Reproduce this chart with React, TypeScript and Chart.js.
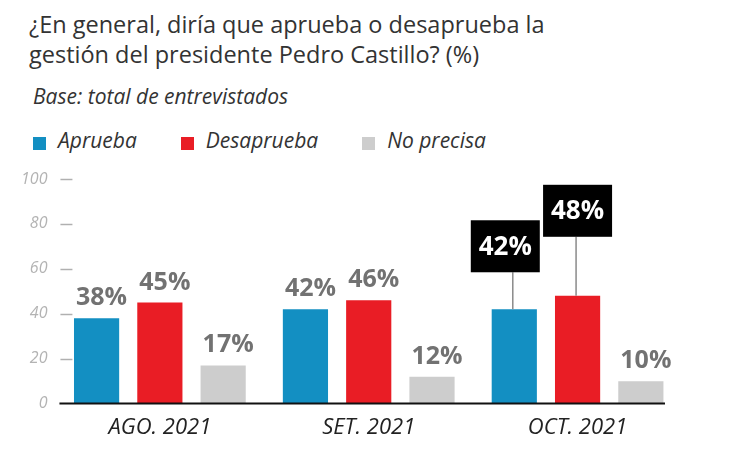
import { useRef, useEffect } from "react";
import { Chart, registerables } from "chart.js";
import type { Plugin } from "chart.js";

Chart.register(...registerables);

const categories = ["AGO. 2021", "SET. 2021", "OCT. 2021"];
const seriesNames = ["Aprueba", "Desaprueba", "No precisa"];
const aprueba = [38, 42, 42];
const desaprueba = [45, 46, 48];
const noPrecisa = [17, 12, 10];
const yTicks = [0, 20, 40, 60, 80, 100];

const COLORS = ["#138fc2", "#e91d25", "#cdcdcd"];
const FONT = "'Open Sans', 'Noto Sans', sans-serif";

// black boxes over the latest poll (series index, category index, lift above bar)
const callouts = [
    { series: 0, index: 2, lift: 37, dx: -9 },
    { series: 1, index: 2, lift: 59, dx: 0 }
];

const decorPlugin: Plugin<"bar"> = {
    id: "decor",
    afterDatasetsDraw(chart) {
        const { ctx, chartArea, scales } = chart;
        const y = scales.y;
        ctx.save();

        // short tick dashes inside the plot
        ctx.strokeStyle = "#b0b0b0";
        ctx.lineWidth = 1.5;
        for (const t of yTicks) {
            if (t === 0) continue;
            const py = Math.round(y.getPixelForValue(t)) + 0.5;
            ctx.beginPath();
            ctx.moveTo(chartArea.left + 5, py);
            ctx.lineTo(chartArea.left + 17, py);
            ctx.stroke();
        }

        // value labels
        chart.data.datasets.forEach((ds, si) => {
            const meta = chart.getDatasetMeta(si);
            meta.data.forEach((bar: any, i) => {
                const v = ds.data[i] as number;
                const c = callouts.find(k => k.series === si && k.index === i);
                const text = `${v}%`;
                if (c) {
                    const bw = 69;
                    const bh = 52;
                    const bottom = bar.y - c.lift;
                    const cx = bar.x + c.dx;
                    ctx.strokeStyle = "#8a8a8a";
                    ctx.lineWidth = 1.5;
                    ctx.beginPath();
                    ctx.moveTo(bar.x - 1.5, bar.y);
                    ctx.lineTo(bar.x - 1.5, bottom);
                    ctx.stroke();
                    ctx.fillStyle = "#000";
                    ctx.fillRect(cx - bw / 2, bottom - bh, bw, bh);
                    ctx.fillStyle = "#fff";
                    ctx.font = `bold 26px ${FONT}`;
                    ctx.textAlign = "center";
                    ctx.textBaseline = "middle";
                    ctx.fillText(text, cx, bottom - bh / 2 + 1);
                } else {
                    ctx.fillStyle = "#727272";
                    ctx.font = `bold 25px ${FONT}`;
                    ctx.textAlign = "center";
                    ctx.textBaseline = "alphabetic";
                    ctx.fillText(text, bar.x + 5, bar.y - 13);
                }
            });
        });

        // baseline
        const y0 = y.getPixelForValue(0);
        ctx.strokeStyle = "#111";
        ctx.lineWidth = 2;
        ctx.beginPath();
        ctx.moveTo(chartArea.left + 4, y0);
        ctx.lineTo(chartArea.right - 17, y0);
        ctx.stroke();
        ctx.restore();
    }
};

function BarChart() {
    const canvasRef = useRef<HTMLCanvasElement>(null);

    useEffect(() => {
        const canvas = canvasRef.current;
        if (!canvas) return;

        const series = [aprueba, desaprueba, noPrecisa];
        const chart = new Chart(canvas, {
            type: "bar",
            data: {
                labels: categories,
                datasets: series.map((data, i) => ({
                    label: seriesNames[i],
                    data,
                    backgroundColor: COLORS[i],
                    borderWidth: 0,
                    categoryPercentage: 0.909,
                    barPercentage: 0.714
                }))
            },
            options: {
                responsive: true,
                maintainAspectRatio: false,
                animation: false,
                layout: { padding: { top: 21, left: 5, right: 52, bottom: 3 } },
                scales: {
                    x: {
                        grid: { display: false, drawTicks: false },
                        border: { display: false },
                        ticks: {
                            color: "#222",
                            padding: 11,
                            font: { family: FONT, size: 22, style: "italic" }
                        }
                    },
                    y: {
                        min: 0,
                        max: 100,
                        afterBuildTicks: scale => {
                            scale.ticks = yTicks.map(value => ({ value }));
                        },
                        grid: { display: false, drawTicks: false },
                        border: { display: false },
                        ticks: {
                            color: "#b3b3b3",
                            padding: 8,
                            font: { family: FONT, size: 16, style: "italic" }
                        }
                    }
                },
                plugins: {
                    legend: { display: false },
                    tooltip: { enabled: false }
                }
            },
            plugins: [decorPlugin]
        });

        return () => chart.destroy();
    }, []);

    return (
        <div style={{ position: "absolute", left: 0, top: 150, width: 726, height: 297 }}>
            <canvas ref={canvasRef} />
        </div>
    );
}

export default function App() {
    return (
        <div style={{ position: "relative", width: 726, height: 447, fontFamily: FONT, background: "#fff" }}>
            <div style={{ position: "absolute", left: 21, top: 1, fontSize: 23.5, lineHeight: "30px", color: "#333" }}>
                ¿En general, diría que aprueba o desaprueba la
                <br />
                gestión del presidente Pedro Castillo? (%)
            </div>
            <div style={{ position: "absolute", left: 25, top: 76, fontSize: 21, lineHeight: "24px", fontStyle: "italic", color: "#333" }}>
                Base: total de entrevistados
            </div>
            <div style={{ position: "absolute", left: 25, top: 120, display: "flex", alignItems: "center", fontSize: 21, lineHeight: "24px", fontStyle: "italic", color: "#333" }}>
                {seriesNames.map((name, i) => (
                    <span key={name} style={{ display: "flex", alignItems: "center", marginRight: 44 }}>
                        <span style={{ width: 13, height: 13, background: COLORS[i], marginRight: 12, position: "relative", top: 3 }} />
                        {name}
                    </span>
                ))}
            </div>
            <BarChart />
        </div>
    );
}
